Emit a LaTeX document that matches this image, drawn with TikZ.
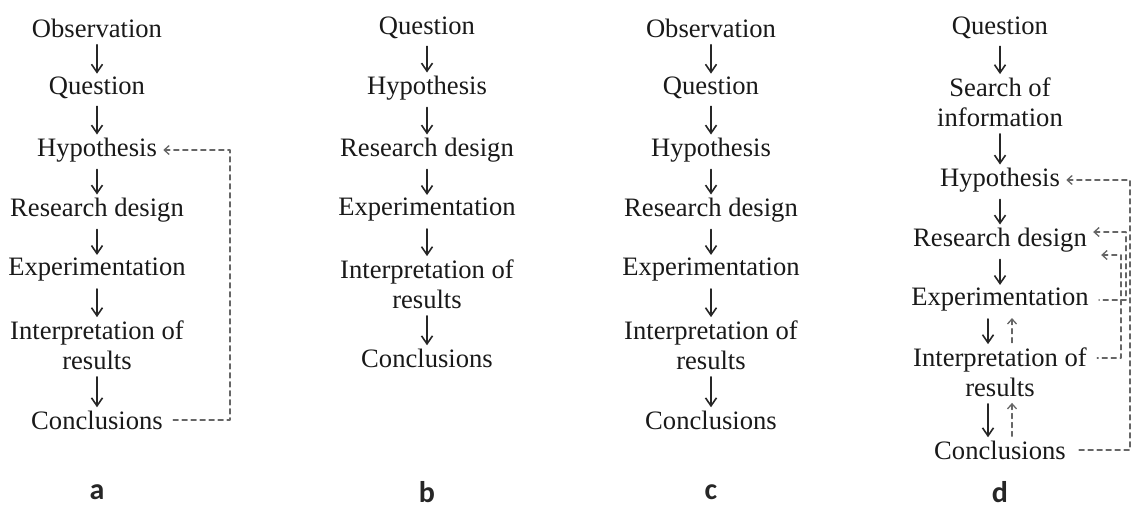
\documentclass[tikz,border=0pt]{standalone}
\usepackage{fontspec}
\setmainfont{Liberation Serif}
\newfontfamily\panelfont{Carlito}
\usetikzlibrary{arrows.meta}
\tikzset{
	stage/.style={font=\fontsize{13.3}{15}\selectfont, align=center, inner sep=1pt, text=black!90},
	flow/.style={-{Straight Barb[length=4pt,width=5.5pt]}, line width=0.8pt, black!85,
		shorten <=2.5pt, shorten >=0.5pt},
	feedback/.style={{Straight Barb[length=2.5pt,width=4.5pt]}-, dash pattern=on 2.5pt off 2pt,
		line width=0.65pt, black!60, shorten <=2pt, shorten >=4pt},
	panel/.style={font=\panelfont\bfseries\fontsize{15}{17}\selectfont, text=black!85}
}
\begin{document}
\begin{tikzpicture}[x=0.5pt, y=-0.5pt, line join=round, line cap=round]
	\useasboundingbox (0,0) rectangle (1134,510);
	% a
	\node[stage] (a1) at (97,28) {Observation};
	\node[stage] (a2) at (97,88) {Question};
	\node[stage] (a3) at (97,150) {Hypothesis};
	\node[stage] (a4) at (97,210) {Research design};
	\node[stage] (a5) at (97,270) {Experimentation};
	\node[stage] (a6) at (97,345) {Interpretation of\\results};
	\node[stage] (a7) at (97,420) {Conclusions};
	\foreach \i/\j in {a1/a2,a2/a3,a3/a4,a4/a5,a5/a6,a6/a7}
		\draw[flow] (\i) -- (\j);
	\coordinate (ar) at (230,0);
	\draw[feedback] (a3.east) -| (ar |- a7.east) -- (a7.east);
	\node[panel] (la) at (97,492) {a};
	% b
	\node[stage] (b1) at (427,28) {Question};
	\node[stage] (b2) at (427,88) {Hypothesis};
	\node[stage] (b3) at (427,150) {Research design};
	\node[stage] (b4) at (427,210) {Experimentation};
	\node[stage] (b5) at (427,284) {Interpretation of\\results};
	\node[stage] (b6) at (427,358) {Conclusions};
	\foreach \i/\j in {b1/b2,b2/b3,b3/b4,b4/b5,b5/b6}
		\draw[flow] (\i) -- (\j);
	\node[panel] (lb) at (427,492) {b};
	% c
	\node[stage] (c1) at (711,28) {Observation};
	\node[stage] (c2) at (711,88) {Question};
	\node[stage] (c3) at (711,150) {Hypothesis};
	\node[stage] (c4) at (711,210) {Research design};
	\node[stage] (c5) at (711,270) {Experimentation};
	\node[stage] (c6) at (711,345) {Interpretation of\\results};
	\node[stage] (c7) at (711,420) {Conclusions};
	\foreach \i/\j in {c1/c2,c2/c3,c3/c4,c4/c5,c5/c6,c6/c7}
		\draw[flow] (\i) -- (\j);
	\node[panel] (lc) at (711,492) {c};
	% d
	\node[stage] (d1) at (1000,28) {Question};
	\node[stage] (d2) at (1000,102) {Search of\\information};
	\node[stage] (d3) at (1000,180) {Hypothesis};
	\node[stage] (d4) at (1000,240) {Research design};
	\node[stage] (d5) at (1000,300) {Experimentation};
	\node[stage] (d6) at (1000,372) {Interpretation of\\results};
	\node[stage] (d7) at (1000,450) {Conclusions};
	\foreach \i/\j in {d1/d2,d2/d3,d3/d4,d4/d5}
		\draw[flow] (\i) -- (\j);
	\draw[flow] ([xshift=-6pt]d5.south) -- ([xshift=-6pt]d6.north);
	\draw[flow] ([xshift=-6pt]d6.south) -- ([xshift=-6pt]d7.north);
	\draw[feedback, shorten >=1pt] ([xshift=6pt]d5.south) -- ([xshift=6pt]d6.north);
	\draw[feedback, shorten >=1pt] ([xshift=6pt]d6.south) -- ([xshift=6pt]d7.north);
	\coordinate (dr1) at (1130,0);
	\coordinate (dr2) at (1126,0);
	\coordinate (dr3) at (1121,0);
	\coordinate (d6e) at ([yshift=7pt]d6.east);
	\draw[feedback] (d3.east) -| (dr1 |- d7.east) -- (d7.east);
	\draw[feedback] ([yshift=4pt]d4.east) -| (dr2 |- d5.east) -- (d5.east);
	\draw[feedback, shorten <=6pt] ([yshift=-7.5pt]d4.east) -| (dr3 |- d6e) -- (d6e);
	\node[panel] (ld) at (1000,492) {d};
\end{tikzpicture}
\end{document}
